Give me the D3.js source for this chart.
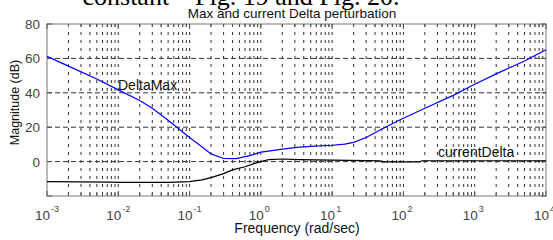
<!DOCTYPE html>
<html>
<head>
<meta charset="utf-8">
<script src="https://cdn.jsdelivr.net/npm/d3@7"></script>
<style>
  body { margin: 0; background: #fff; }
  text { font-family: "Liberation Sans", Arial, sans-serif; }
</style>
</head>
<body>
<script>
'use strict';

// data
let freqMax = [1e-3, 2e-3, 5e-3, 1e-2, 2e-2, 3e-2, 5e-2, 0.1, 0.15, 0.2, 0.3, 0.45, 0.7, 1, 1.35, 2, 3.2, 5, 10, 15, 20, 30, 50, 90, 200, 500, 1000, 2000, 5000, 10000];
let deltaMax = [61.2, 55.5, 48, 41.7, 35.5, 31, 24, 14, 8.5, 4.5, 1.8, 1.7, 3.5, 5.5, 6.2, 7.2, 8.3, 8.8, 9.5, 10.2, 11.2, 14, 19, 24.3, 31, 38.5, 45, 51, 58.5, 65];
let freqCur = [1e-3, 8e-3, 1e-2, 0.05, 0.08, 0.1, 0.15, 0.2, 0.3, 0.4, 0.6, 0.8, 1, 1.3, 2, 3.5, 10, 30, 47, 50, 170, 180, 10000];
let currentDelta = [-11.7, -11.9, -12.1, -12.1, -11.8, -11.6, -10.6, -9.3, -7, -4.8, -3, -1.2, 0, 1.2, 1.5, 1.2, 0.9, 0.6, 0.5, -0.2, -0.2, 0.5, 0.5];
let yTicks = [-20, 0, 20, 40, 60, 80];
let yTickLabels = ["", "0", "20", "40", "60", "80"];
let xExponents = [-3, -2, -1, 0, 1, 2, 3, 4];

let width = 553;
let height = 240;
let margin = {left: 47, right: 7, top: 24, bottom: 44};

let svg = d3.select('body').append('svg')
  .attr('width', width)
  .attr('height', height);

let xScale = d3.scaleLog()
  .domain([1e-3, 1e4])
  .range([margin.left, width - margin.right]);

let yScale = d3.scaleLinear()
  .domain([-20, 80])
  .range([height - margin.bottom, margin.top]);

let x0 = xScale.range()[0], x1 = xScale.range()[1];
let yTop = yScale.range()[1], yBot = yScale.range()[0];

// all log ticks (major + minor)
let logTicks = [];
xExponents.forEach(function(e) {
  for (let m = 1; m <= 9; m++) {
    let v = m * Math.pow(10, e);
    if (v <= 1e4) logTicks.push({v: v, major: m === 1});
  }
});

// vertical grid
svg.append('g').selectAll('line')
  .data(logTicks.filter(d => d.v > 1e-3 && d.v < 1e4))
  .enter().append('line')
  .attr('x1', d => xScale(d.v)).attr('x2', d => xScale(d.v))
  .attr('y1', yTop).attr('y2', yBot)
  .attr('stroke', '#333')
  .attr('stroke-width', 1)
  .attr('stroke-dasharray', '3,5');

// horizontal grid
svg.append('g').selectAll('line')
  .data(yTicks.filter(d => d > -20 && d < 80))
  .enter().append('line')
  .attr('x1', x0).attr('x2', x1)
  .attr('y1', d => yScale(d)).attr('y2', d => yScale(d))
  .attr('stroke', '#333')
  .attr('stroke-width', 1)
  .attr('stroke-dasharray', '5,3');

// box
svg.append('rect')
  .attr('x', x0).attr('y', yTop)
  .attr('width', x1 - x0).attr('height', yBot - yTop)
  .attr('fill', 'none')
  .attr('stroke', '#777')
  .attr('stroke-width', 1);

// x ticks inside, top and bottom
let tickG = svg.append('g').attr('stroke', '#555');
logTicks.forEach(function(d) {
  let len = d.major ? 5 : 3;
  let x = xScale(d.v);
  tickG.append('line').attr('x1', x).attr('x2', x).attr('y1', yBot).attr('y2', yBot - len);
  tickG.append('line').attr('x1', x).attr('x2', x).attr('y1', yTop).attr('y2', yTop + len);
});
yTicks.forEach(function(d) {
  let y = yScale(d);
  tickG.append('line').attr('x1', x0).attr('x2', x0 + 5).attr('y1', y).attr('y2', y);
  tickG.append('line').attr('x1', x1).attr('x2', x1 - 5).attr('y1', y).attr('y2', y);
});

// y tick labels
svg.append('g').selectAll('text')
  .data(yTicks)
  .enter().append('text')
  .attr('x', x0 - 7)
  .attr('y', d => yScale(d) + 5)
  .attr('text-anchor', 'end')
  .attr('font-size', 13.5)
  .attr('fill', '#444')
  .text((d, i) => yTickLabels[i]);

// x tick labels: 10^e, the "10" ends just right of the tick
let xl = svg.append('g').selectAll('g')
  .data(xExponents)
  .enter().append('g')
  .attr('transform', d => 'translate(' + (xScale(Math.pow(10, d)) + 3) + ',219.5)');
xl.append('text')
  .attr('text-anchor', 'end')
  .attr('font-size', 13.5)
  .attr('fill', '#444')
  .text('10');
xl.append('text')
  .attr('x', 1)
  .attr('y', -8)
  .attr('font-size', 9)
  .attr('fill', '#444')
  .text(d => d);

// curves
let line = d3.line()
  .x(d => xScale(d[0]))
  .y(d => yScale(d[1]));

svg.append('path')
  .datum(freqMax.map((f, i) => [f, deltaMax[i]]))
  .attr('d', line)
  .attr('fill', 'none')
  .attr('stroke', '#0000ff')
  .attr('stroke-width', 1.2);

svg.append('path')
  .datum(freqCur.map((f, i) => [f, currentDelta[i]]))
  .attr('d', line)
  .attr('fill', 'none')
  .attr('stroke', '#000')
  .attr('stroke-width', 1.2);

// curve labels
svg.append('text')
  .attr('x', 118).attr('y', 90)
  .attr('font-size', 14).attr('fill', '#111')
  .text('DeltaMax');
svg.append('text')
  .attr('x', 438).attr('y', 157)
  .attr('font-size', 14).attr('fill', '#111')
  .text('currentDelta');

// titles
svg.append('text')
  .attr('x', 241).attr('y', 5)
  .attr('text-anchor', 'middle')
  .style('font-family', '"Liberation Serif", "Times New Roman", serif')
  .attr('font-size', 26)
  .attr('fill', '#000')
  .text('constant \u2013 Fig. 19 and Fig. 20.');

svg.append('text')
  .attr('x', 292).attr('y', 17.5)
  .attr('text-anchor', 'middle')
  .attr('font-size', 13.5).attr('fill', '#111')
  .text('Max and current Delta perturbation');

svg.append('text')
  .attr('x', 297).attr('y', 232.5)
  .attr('text-anchor', 'middle')
  .attr('font-size', 14).attr('fill', '#111')
  .text('Frequency  (rad/sec)');

svg.append('text')
  .attr('transform', 'translate(19,102.5) rotate(-90)')
  .attr('text-anchor', 'middle')
  .attr('font-size', 12.5).attr('fill', '#111')
  .text('Magnitude (dB)');
</script>
</body>
</html>
